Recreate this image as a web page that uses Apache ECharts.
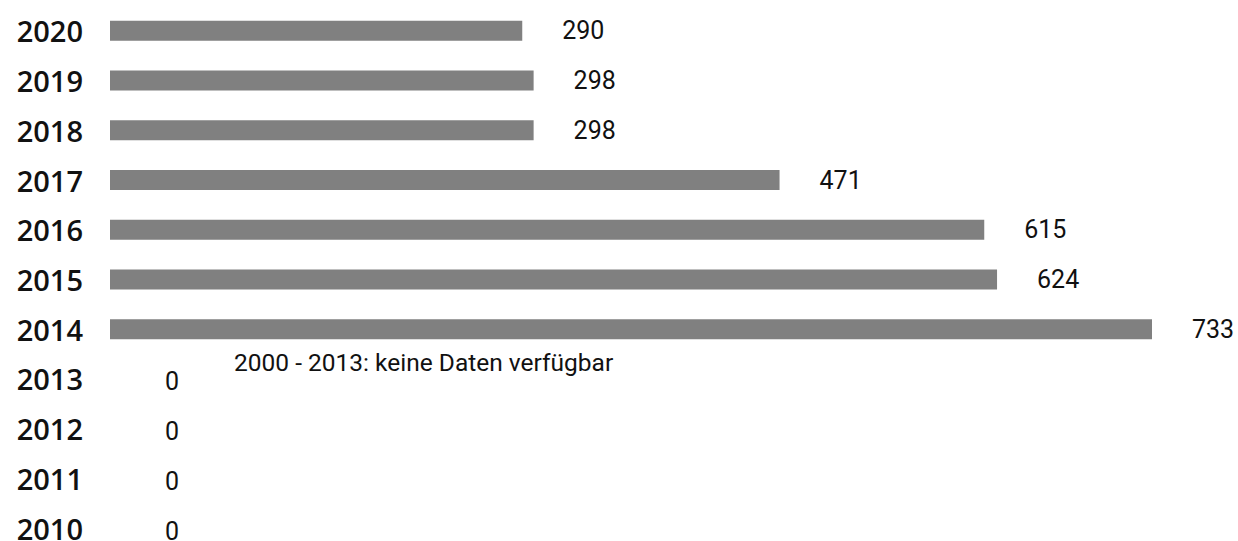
<!DOCTYPE html>
<html>
<head>
<meta charset="utf-8">
<script src="https://cdn.jsdelivr.net/npm/echarts@6/dist/echarts.min.js"></script>
<style>
  html, body { margin: 0; padding: 0; background: #fff; }
  #chart { width: 1238px; height: 541px; }
</style>
</head>
<body>
<div id="chart"></div>
<script>
// Jahre (von unten nach oben) und Werte
const years = ["2010", "2011", "2012", "2013", "2014", "2015", "2016", "2017", "2018", "2019", "2020"];
const counts = [0, 0, 0, 0, 733, 624, 615, 471, 298, 298, 290];
const note = "2000 - 2013: keine Daten verfügbar";

const chart = echarts.init(document.getElementById("chart"), null, { renderer: "svg" });

// leere Jahre bekommen ihr Label etwas weiter rechts und tiefer
const barData = counts.map((v) => {
  if (v === 0) {
    return { value: v, label: { distance: 55, offset: [0, 3] } };
  }
  return { value: v };
});

chart.setOption({
  animation: false,
  grid: {
    left: 110,
    right: 86,
    top: 6,
    height: 547,
    outerBoundsMode: "none",
    containLabel: false,
  },
  xAxis: {
    type: "value",
    min: 0,
    max: 733,
    show: false,
  },
  yAxis: {
    type: "category",
    data: years,
    axisLine: { show: false },
    axisTick: { show: false },
    axisLabel: {
      margin: 27,
      color: "#111",
      fontFamily: "Open Sans",
      fontSize: 29,
      fontWeight: 600,
      lineHeight: 29,
    },
  },
  series: [
    {
      type: "bar",
      data: barData,
      barWidth: 20,
      itemStyle: { color: "#808080" },
      label: {
        show: true,
        position: "right",
        distance: 40,
        color: "#111",
        fontFamily: "Roboto",
        fontSize: 25,
        lineHeight: 25,
      },
    },
  ],
  graphic: [
    {
      type: "text",
      left: 234,
      top: 350,
      style: {
        text: note,
        fill: "#111",
        font: "24.5px Roboto",
      },
    },
  ],
});
</script>
</body>
</html>
